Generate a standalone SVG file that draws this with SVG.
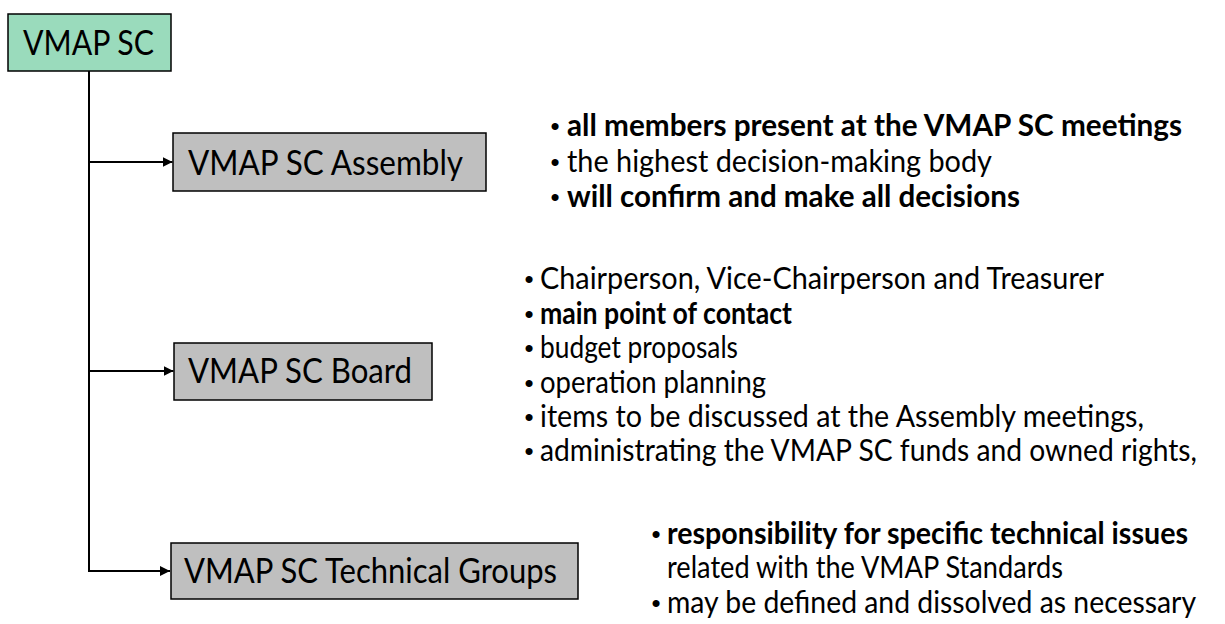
<svg xmlns="http://www.w3.org/2000/svg" width="1225" height="624" viewBox="0 0 1225 624">
<defs>
<marker id="arr" viewBox="0 0 10 10" refX="10" refY="5" markerWidth="5" markerHeight="5" orient="auto" markerUnits="strokeWidth">
<path d="M0,0 L10,5 L0,10 z" fill="#000"/>
</marker>
<style>
.root{fill:#9ADBBC;stroke:#000;stroke-width:1.5}
.box{fill:#BFBFBF;stroke:#000;stroke-width:1.5}
.lbl{font-family:Lato,"Open Sans","Liberation Sans",sans-serif;font-size:35px;fill:#000}
.t{font-family:Lato,"Open Sans","Liberation Sans",sans-serif;font-size:31px;fill:#000}
.b{font-weight:bold}
.dot{font-family:"Liberation Sans",sans-serif;font-size:26px;fill:#000;text-anchor:middle}
.con{fill:none;stroke:#000;stroke-width:2}
</style>
</defs>
<rect width="1225" height="624" fill="#fff"/>
<g id="connectors">
<path class="con" d="M89,71 V571 H170" marker-end="url(#arr)"/>
<path class="con" d="M89,162 H172.5" marker-end="url(#arr)"/>
<path class="con" d="M89,371 H173.5" marker-end="url(#arr)"/>
</g>
<g id="node-root">
<rect class="root" x="8" y="14" width="163" height="57"/>
<text class="lbl" x="23" y="55" textLength="131" lengthAdjust="spacingAndGlyphs">VMAP SC</text>
</g>
<g id="node-assembly">
<rect class="box" x="173" y="133" width="313" height="58"/>
<text class="lbl" x="188" y="175" textLength="275" lengthAdjust="spacingAndGlyphs">VMAP SC Assembly</text>
</g>
<g id="node-board">
<rect class="box" x="174" y="343" width="258" height="57"/>
<text class="lbl" x="188" y="383" textLength="224" lengthAdjust="spacingAndGlyphs">VMAP SC Board</text>
</g>
<g id="node-tech">
<rect class="box" x="171" y="543" width="407" height="56"/>
<text class="lbl" x="184" y="583" textLength="373" lengthAdjust="spacingAndGlyphs">VMAP SC Technical Groups</text>
</g>
<g id="notes-assembly">
<text class="dot" x="555" y="135">•</text>
<text class="t b" x="567" y="136" textLength="615" lengthAdjust="spacingAndGlyphs">all members present at the VMAP SC meetings</text>
<text class="dot" x="555" y="171">•</text>
<text class="t" x="567" y="172" textLength="425" lengthAdjust="spacingAndGlyphs">the highest decision-making body</text>
<text class="dot" x="555" y="206">•</text>
<text class="t b" x="567" y="207" textLength="453" lengthAdjust="spacingAndGlyphs">will confirm and make all decisions</text>
</g>
<g id="notes-board">
<text class="dot" x="529" y="288">•</text>
<text class="t" x="540" y="289" textLength="564" lengthAdjust="spacingAndGlyphs">Chairperson, Vice-Chairperson and Treasurer</text>
<text class="dot" x="529" y="323">•</text>
<text class="t b" x="540" y="324" textLength="252" lengthAdjust="spacingAndGlyphs">main point of contact</text>
<text class="dot" x="529" y="357">•</text>
<text class="t" x="540" y="358" textLength="198" lengthAdjust="spacingAndGlyphs">budget proposals</text>
<text class="dot" x="529" y="392">•</text>
<text class="t" x="540" y="393" textLength="226" lengthAdjust="spacingAndGlyphs">operation planning</text>
<text class="dot" x="529" y="426">•</text>
<text class="t" x="540" y="427" textLength="604" lengthAdjust="spacingAndGlyphs">items to be discussed at the Assembly meetings,</text>
<text class="dot" x="529" y="460">•</text>
<text class="t" x="540" y="461" textLength="657" lengthAdjust="spacingAndGlyphs">administrating the VMAP SC funds and owned rights,</text>
</g>
<g id="notes-tech">
<text class="dot" x="656" y="543">•</text>
<text class="t b" x="667" y="544" textLength="521" lengthAdjust="spacingAndGlyphs">responsibility for specific technical issues</text>
<text class="t" x="667" y="578" textLength="396" lengthAdjust="spacingAndGlyphs">related with the VMAP Standards</text>
<text class="dot" x="656" y="612">•</text>
<text class="t" x="667" y="613" textLength="529" lengthAdjust="spacingAndGlyphs">may be defined and dissolved as necessary</text>
</g>
</svg>
